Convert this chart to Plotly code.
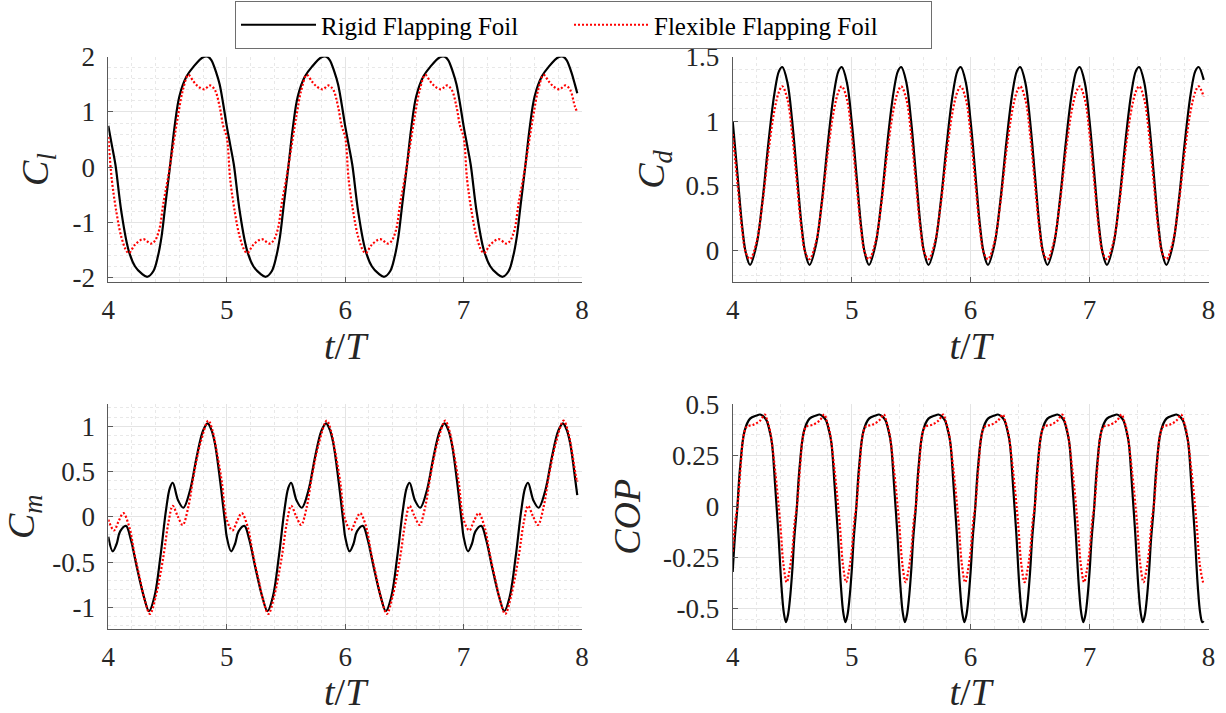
import plotly.graph_objects as go

# ---------------- data (one cycle, repeated each period) ----------------
T_START = 4.0
T_END = 7.96

# Lift coefficient, period 1
cl_rigid_phase = [0.0, 0.03, 0.06, 0.11, 0.17, 0.225, 0.28, 0.33, 0.38, 0.42, 0.45, 0.48, 0.52,
                  0.56, 0.60, 0.66, 0.72, 0.80, 0.84, 0.87, 0.91, 0.94, 0.97]
cl_rigid_val = [0.75, 0.4, 0.05, -0.8, -1.49, -1.79, -1.92, -1.98, -1.88, -1.6, -1.25, -0.71, 0.0,
                0.74, 1.28, 1.64, 1.82, 1.99, 2.0, 1.94, 1.72, 1.5, 1.15]
cl_rigid_end = 1.34
cl_flex_phase = [0.0, 0.03, 0.07, 0.11, 0.155, 0.175, 0.225, 0.296, 0.36, 0.39, 0.43, 0.465, 0.51,
                 0.55, 0.59, 0.63, 0.676, 0.72, 0.76, 0.81, 0.86, 0.90, 0.94, 0.97]
cl_flex_val = [0.55, -0.23, -0.83, -1.26, -1.52, -1.55, -1.40, -1.30, -1.38, -1.34, -1.13, -0.65, -0.12,
               0.42, 0.95, 1.40, 1.67, 1.55, 1.46, 1.41, 1.48, 1.40, 1.10, 0.75]
cl_flex_end = 1.0

# Drag coefficient, period 0.5
cd_rigid_phase = [0.0, 0.04, 0.08, 0.11, 0.146, 0.2, 0.25, 0.3, 0.35, 0.39, 0.417, 0.46]
cd_rigid_val = [1.0, 0.59, 0.18, -0.02, -0.115, 0.04, 0.38, 0.83, 1.21, 1.39, 1.42, 1.3]
cd_rigid_end = 1.32
cd_flex_phase = [0.0, 0.04, 0.08, 0.11, 0.146, 0.2, 0.25, 0.3, 0.35, 0.39, 0.417, 0.46]
cd_flex_val = [0.9, 0.52, 0.15, -0.02, -0.07, 0.06, 0.36, 0.76, 1.08, 1.23, 1.27, 1.17]
cd_flex_end = 1.19

# Moment coefficient, period 1
cm_rigid_phase = [0.0, 0.037, 0.07, 0.10, 0.149, 0.19, 0.24, 0.30, 0.344, 0.39, 0.44, 0.487, 0.52,
                  0.544, 0.59, 0.634, 0.69, 0.746, 0.80, 0.839, 0.87, 0.90, 0.944, 0.986]
cm_rigid_val = [-0.22, -0.38, -0.30, -0.16, -0.10, -0.25, -0.55, -0.88, -1.04, -0.88, -0.44, 0.07, 0.32,
                0.375, 0.18, 0.10, 0.29, 0.66, 0.95, 1.03, 0.96, 0.81, 0.40, -0.07]
cm_rigid_end = 0.24
cm_flex_phase = [0.0, 0.048, 0.09, 0.127, 0.177, 0.22, 0.27, 0.31, 0.352, 0.40, 0.465, 0.507, 0.544,
                 0.585, 0.628, 0.676, 0.72, 0.78, 0.845, 0.88, 0.91, 0.958]
cm_flex_val = [-0.03, -0.15, -0.04, 0.04, -0.11, -0.40, -0.70, -0.93, -1.07, -0.88, -0.44, -0.07, 0.12,
               0.01, -0.09, 0.11, 0.45, 0.82, 1.06, 0.95, 0.76, 0.39]
cm_flex_end = 0.40

# Centre of pressure, period 0.5
cop_rigid_phase = [0.0, 0.017, 0.036, 0.062, 0.10, 0.146, 0.20, 0.23, 0.26, 0.286, 0.31, 0.33,
                   0.356, 0.384, 0.41, 0.43, 0.448, 0.465, 0.48]
cop_rigid_val = [-0.32, -0.16, -0.03, 0.19, 0.37, 0.43, 0.445, 0.45, 0.44, 0.42, 0.37, 0.31,
                 0.11, -0.13, -0.39, -0.52, -0.565, -0.53, -0.46]
cop_rigid_end = -0.56
cop_flex_phase = [0.0, 0.024, 0.04, 0.07, 0.09, 0.118, 0.174, 0.23, 0.27, 0.29, 0.314, 0.356, 0.40,
                  0.426, 0.454, 0.475]
cop_flex_val = [-0.22, -0.06, 0.0, 0.22, 0.34, 0.39, 0.40, 0.42, 0.45, 0.42, 0.37, 0.18, -0.085,
                -0.28, -0.37, -0.32]
cop_flex_end = -0.38

x_tick_vals = [4, 5, 6, 7, 8]
x_tick_text = ["4", "5", "6", "7", "8"]
cl_tick_vals = [-2, -1, 0, 1, 2]
cl_tick_text = ["-2", "-1", "0", "1", "2"]
cd_tick_vals = [0, 0.5, 1, 1.5]
cd_tick_text = ["0", "0.5", "1", "1.5"]
cm_tick_vals = [-1, -0.5, 0, 0.5, 1]
cm_tick_text = ["-1", "-0.5", "0", "0.5", "1"]
cop_tick_vals = [-0.5, -0.25, 0, 0.25, 0.5]
cop_tick_text = ["-0.5", "-0.25", "0", "0.25", "0.5"]

series_names = ["Rigid Flapping Foil", "Flexible Flapping Foil"]


def periodic(phase, val, period, end_val):
    ts, vs = [], []
    k = 0
    while T_START + k * period < T_END:
        for p, v in zip(phase, val):
            t = T_START + k * period + p
            if t < T_END - 1e-9:
                ts.append(round(t, 4))
                vs.append(v)
        k += 1
    ts.append(T_END)
    vs.append(end_val)
    return ts, vs


# ---------------- figure ----------------
FONT = "Liberation Serif"
TXT = "#262626"
AX = "#5a5a5a"

fig = go.Figure()

panels = [
    ("x", "y", (cl_rigid_phase, cl_rigid_val, cl_rigid_end), (cl_flex_phase, cl_flex_val, cl_flex_end), 1.0),
    ("x2", "y2", (cd_rigid_phase, cd_rigid_val, cd_rigid_end), (cd_flex_phase, cd_flex_val, cd_flex_end), 0.5),
    ("x3", "y3", (cm_rigid_phase, cm_rigid_val, cm_rigid_end), (cm_flex_phase, cm_flex_val, cm_flex_end), 1.0),
    ("x4", "y4", (cop_rigid_phase, cop_rigid_val, cop_rigid_end), (cop_flex_phase, cop_flex_val, cop_flex_end), 0.5),
]

for i, (xa, ya, rigid, flex, period) in enumerate(panels):
    tr, vr = periodic(rigid[0], rigid[1], period, rigid[2])
    tf, vf = periodic(flex[0], flex[1], period, flex[2])
    fig.add_trace(go.Scatter(x=tr, y=vr, xaxis=xa, yaxis=ya, mode="lines",
                             line=dict(color="#000000", width=2.2, shape="spline", smoothing=1.0),
                             name=series_names[0], showlegend=(i == 0), legendwidth=243))
    fig.add_trace(go.Scatter(x=tf, y=vf, xaxis=xa, yaxis=ya, mode="lines",
                             line=dict(color="#ff0000", width=2.2, dash="2px,2px", shape="spline", smoothing=1.0),
                             name=series_names[1], showlegend=(i == 0), legendwidth=272))

W, H = 1226, 713
xdom_l = [108.3 / W, 582.0 / W]
xdom_r = [732.7 / W, 1208.5 / W]
ydom_t = [(H - 282.3) / H, (H - 56.7) / H]
ydom_b = [(H - 629.3) / H, (H - 404.3) / H]

tick_font = dict(family=FONT, size=27, color=TXT)
title_font = dict(family=FONT, size=38, color=TXT)


def xaxis(domain, anchor):
    return dict(domain=domain, anchor=anchor, range=[4, 8], tickmode="array",
                tickvals=x_tick_vals, ticktext=x_tick_text, tickfont=tick_font,
                ticks="inside", ticklen=5, tickcolor=AX, showline=True, linecolor=AX, linewidth=1,
                zeroline=False, showgrid=True, gridcolor="#e4e4e4", gridwidth=1, automargin=False,
                minor=dict(tickvals=[4 + 0.2 * j for j in range(21)], showgrid=True,
                           gridcolor="#e8e8e8", griddash="dot", gridwidth=1),
                ticklabelstandoff=3,
                title=dict(text="<i>t</i>/<i>T</i>", font=title_font, standoff=0))


def yaxis(domain, anchor, rng, tv, tt, minor_step, title, standoff):
    n = int(round((rng[1] - rng[0]) / minor_step)) + 2
    start = minor_step * int(rng[0] / minor_step - 1)
    minor_vals = [round(start + minor_step * j, 4) for j in range(n + 2)]
    return dict(domain=domain, anchor=anchor, range=rng, tickmode="array",
                tickvals=tv, ticktext=tt, tickfont=tick_font,
                ticks="inside", ticklen=5, tickcolor=AX, showline=True, linecolor=AX, linewidth=1,
                zeroline=False, showgrid=True, gridcolor="#e4e4e4", gridwidth=1, automargin=False,
                minor=dict(tickvals=minor_vals, showgrid=True,
                           gridcolor="#e8e8e8", griddash="dot", gridwidth=1),
                ticklabelstandoff=7,
                title=dict(text=title, font=title_font, standoff=standoff))


fig.update_layout(
    width=W, height=H,
    margin=dict(l=0, r=0, t=0, b=0, autoexpand=False),
    paper_bgcolor="white", plot_bgcolor="white",
    font=dict(family=FONT, color=TXT),
    xaxis=xaxis(xdom_l, "y"),
    yaxis=yaxis(ydom_t, "x", [-2.08, 2.0], cl_tick_vals, cl_tick_text, 0.2,
                "<i>C</i><sub><i>l</i></sub>", 12),
    xaxis2=xaxis(xdom_r, "y2"),
    yaxis2=yaxis(ydom_t, "x2", [-0.25, 1.5], cd_tick_vals, cd_tick_text, 0.1,
                 "<i>C</i><sub><i>d</i></sub>", 9),
    xaxis3=xaxis(xdom_l, "y3"),
    yaxis3=yaxis(ydom_b, "x3", [-1.24, 1.24], cm_tick_vals, cm_tick_text, 0.1,
                 "<i>C</i><sub><i>m</i></sub>", 9),
    xaxis4=xaxis(xdom_r, "y4"),
    yaxis4=yaxis(ydom_b, "x4", [-0.6, 0.5], cop_tick_vals, cop_tick_text, 0.05, "<i>COP</i>", 10),
    legend=dict(orientation="h", x=235 / W, y=1 - 1 / H, xanchor="left", yanchor="top",
                xref="container", yref="container",
                bgcolor="white", bordercolor="#6e6e6e", borderwidth=1,
                font=dict(family=FONT, size=25, color="#000000"), itemwidth=75,
                entrywidthmode="pixels", tracegroupgap=0),
    showlegend=True,
)

fig.write_html("out.html")
